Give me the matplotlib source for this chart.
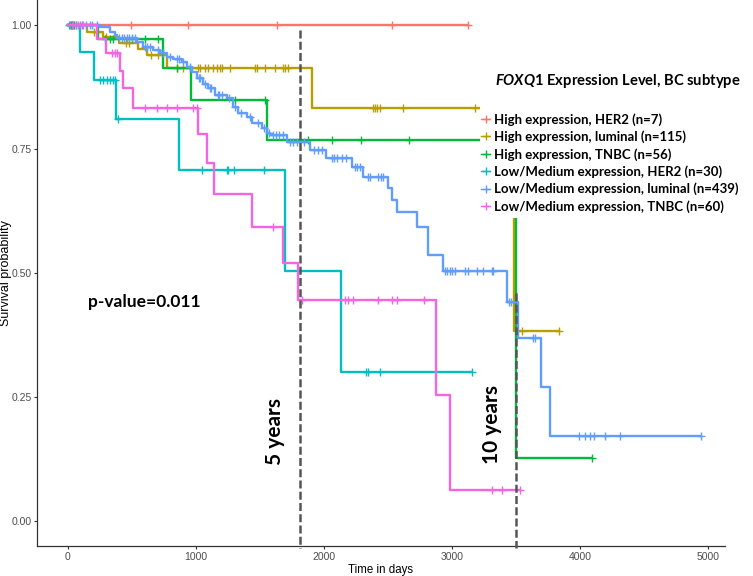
import numpy as np
import matplotlib.pyplot as plt
from matplotlib.lines import Line2D
from matplotlib.patches import Rectangle

plt.rcParams['font.family'] = ['Liberation Sans', 'DejaVu Sans']
plt.rcParams['mathtext.fontset'] = 'custom'
plt.rcParams['mathtext.it'] = 'Lato:italic:bold'
plt.rcParams['mathtext.rm'] = 'Lato:bold'

# Kaplan-Meier curves: event times (days), survival after each event,
# censor times and last follow-up time for every group
labels = ['High expression, HER2 (n=7)', 'High expression, luminal (n=115)',
          'High expression, TNBC (n=56)', 'Low/Medium expression, HER2 (n=30)',
          'Low/Medium expression, luminal (n=439)', 'Low/Medium expression, TNBC (n=60)']
colors = ['#F8766D', '#B79F00', '#00BA38', '#00BFC4', '#619CFF', '#F564E3']

her2_hi_t = []
her2_hi_s = []
her2_hi_cens = [15, 40, 490, 940, 1630, 2530, 3125]
her2_hi_end = 3125

lum_hi_t = [148, 270, 400, 550, 620, 773, 1905, 3484]
lum_hi_s = [0.986, 0.975, 0.964, 0.952, 0.940, 0.913, 0.833, 0.383]
lum_hi_cens = [30, 60, 200, 230, 300, 450, 480, 650, 700, 850, 900, 950,
               1015, 1030, 1069, 1093, 1132, 1163, 1186, 1202, 1265, 1460, 1475, 1538,
               1616, 1678, 1694, 1717, 2381, 2396, 2412, 2436, 2615, 3177, 3544, 3833]
lum_hi_end = 3833

tnbc_hi_t = [234, 742, 960, 1554, 3497]
tnbc_hi_s = [0.971, 0.913, 0.849, 0.768, 0.127]
tnbc_hi_cens = [20, 50, 290, 330, 350, 500, 600, 700, 850, 1304, 1538, 1873, 2061,
                2287, 2662, 4090]
tnbc_hi_end = 4090

her2_lo_t = [94, 205, 372, 867, 1694, 2129]
her2_lo_s = [0.945, 0.889, 0.810, 0.708, 0.504, 0.300]
her2_lo_cens = [10, 30, 250, 273, 304, 328, 351, 367, 390, 1047, 1241, 1250, 1297, 1530,
                2328, 2344, 2437, 3154]
her2_lo_end = 3154

lum_lo_t = [250, 328, 367, 382, 539, 585, 664, 718, 773, 820, 890, 929, 968, 1007, 1054,
            1093, 1148, 1241, 1288, 1327, 1397, 1436, 1514, 1553, 1577, 1709, 1889, 2014,
            2217, 2303, 2498, 2529, 2568, 2724, 2810, 2927, 3427, 3513, 3692, 3763]
lum_lo_s = [0.996, 0.986, 0.980, 0.974, 0.966, 0.956, 0.950, 0.944, 0.935, 0.931, 0.925,
            0.915, 0.905, 0.893, 0.881, 0.873, 0.859, 0.853, 0.835, 0.823, 0.815, 0.802,
            0.792, 0.782, 0.778, 0.764, 0.748, 0.732, 0.714, 0.694, 0.671, 0.647, 0.623,
            0.593, 0.536, 0.504, 0.442, 0.369, 0.270, 0.171]
lum_lo_cens = [30, 60, 90, 110, 140, 170, 190, 230, 400, 420, 440, 460, 480, 500, 520, 600,
               620, 640, 700, 740, 800, 850, 870, 900, 950, 1020, 1030, 1070, 1110, 1120,
               1170, 1180, 1200, 1260, 1300, 1350, 1420, 1480, 1530, 1570, 1600, 1620, 1650,
               1680, 1730, 1760, 1790, 1840, 1920, 1950, 1980, 2060, 2080, 2100, 2140, 2170,
               2240, 2260, 2280, 2340, 2360, 2420, 2440, 2460, 2943, 2958, 2982, 2998, 3021,
               3099, 3123, 3193, 3240, 3310, 3318, 3443, 3458, 3630, 3645, 3989, 4036, 4075,
               4106, 4192, 4309, 4941]
lum_lo_end = 4941

tnbc_lo_t = [226, 297, 406, 430, 508, 1015, 1085, 1140, 1436, 1678, 1795, 2870, 2982]
tnbc_lo_s = [0.972, 0.943, 0.907, 0.873, 0.833, 0.780, 0.722, 0.659, 0.593, 0.520, 0.446,
             0.254, 0.0625]
tnbc_lo_cens = [40, 80, 120, 343, 367, 382, 601, 695, 773, 851, 976, 1007, 1600, 1827,
                2162, 2186, 2225, 2420, 2529, 2568, 2779, 3310, 3388, 3528]
tnbc_lo_end = 3528

groups = [
    (her2_hi_t, her2_hi_s, her2_hi_cens, her2_hi_end),
    (lum_hi_t, lum_hi_s, lum_hi_cens, lum_hi_end),
    (tnbc_hi_t, tnbc_hi_s, tnbc_hi_cens, tnbc_hi_end),
    (her2_lo_t, her2_lo_s, her2_lo_cens, her2_lo_end),
    (lum_lo_t, lum_lo_s, lum_lo_cens, lum_lo_end),
    (tnbc_lo_t, tnbc_lo_s, tnbc_lo_cens, tnbc_lo_end),
]

five_years = 1812
ten_years = 3495

fig = plt.figure(figsize=(7.53, 5.76), dpi=100)
ax = fig.add_axes([37 / 753, 30 / 576, 688 / 753, 546 / 576])

for (t, s, cens, end), c in zip(groups, colors):
    tt = np.array([0] + t + [end], dtype=float)
    ss = np.array([1.0] + s + [s[-1] if s else 1.0])
    ax.step(tt, ss, where='post', color=c, lw=1.7, zorder=2)
    idx = np.searchsorted(tt[:-1], np.array(cens), side='right') - 1
    ax.plot(cens, ss[idx], ls='none', marker='+', ms=6, mew=1.0, color=c, zorder=2)

# 5 / 10 year markers
ax.plot([five_years, five_years], [0.99, -0.054], ls=(0, (3.2, 1.3)), lw=1.8,
        color='#555555', clip_on=False, zorder=5)
ax.plot([ten_years, ten_years], [0.46, -0.054], ls=(0, (3.2, 1.3)), lw=1.8,
        color='#555555', clip_on=False, zorder=5)
ax.text(1616, 0.181, '5 years', rotation=90, ha='center', va='center',
        family='Lato', fontweight='bold', fontsize=15, zorder=6)
ax.text(3310, 0.194, '10 years', rotation=90, ha='center', va='center',
        family='Lato', fontweight='bold', fontsize=15, zorder=6)
ax.text(156, 0.4415, 'p-value=0.011', ha='left', va='center',
        family='Lato', fontweight='bold', fontsize=12.5)

ax.set_xlim(-242, 5129)
ax.set_ylim(-0.0504, 1.0504)
ax.set_xticks([0, 1000, 2000, 3000, 4000, 5000])
ax.set_yticks([0, 0.25, 0.5, 0.75, 1.0])
ax.set_yticklabels(['0.00', '0.25', '0.50', '0.75', '1.00'])
ax.tick_params(labelsize=7.5, labelcolor='#4D4D4D', length=2.5, width=0.8,
               color='#333333', pad=1.5)
for side in ['top', 'right']:
    ax.spines[side].set_visible(False)
for side in ['left', 'bottom']:
    ax.spines[side].set_linewidth(0.9)
    ax.spines[side].set_color('#333333')
ax.set_xlabel('Time in days', fontsize=8.3, labelpad=2)
ax.set_ylabel('Survival probability', fontsize=9)
ax.yaxis.set_label_coords((12 - 37) / 688, 0.5)

# white legend background, as in the ggplot legend box
fig.add_artist(Rectangle((480 / 753, 1 - 218 / 576), 273 / 753, 118 / 576,
                         transform=fig.transFigure, fc='white', ec='none', zorder=1))
handles = [Line2D([], [], color=c, lw=1.0, marker='+', ms=6, mew=1.0) for c in colors]
leg = fig.legend(handles, labels, loc='upper left', bbox_to_anchor=(481 / 753, 1 - 113 / 576),
                 frameon=False, prop={'family': 'Lato', 'weight': 'bold', 'size': 9.5},
                 handlelength=0.7, handletextpad=0.3, labelspacing=0.36, borderpad=0,
                 borderaxespad=0)
leg.set_zorder(10)
fig.text(495 / 753, 1 - 81 / 576, r'$\it{FOXQ1}$ Expression Level, BC subtype',
         family='Lato', fontweight='bold', fontsize=10.6, ha='left', va='center')

fig.savefig('out.png', dpi=100)
